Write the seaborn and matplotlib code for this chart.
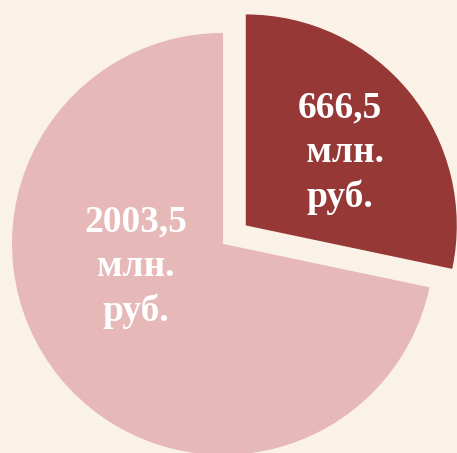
import seaborn as sns
import matplotlib
matplotlib.use("Agg")
import matplotlib.pyplot as plt

# wedge shares (dark wedge spans ~102 deg)
shares = [28.3, 71.7]
labels = ["666,5\n млн.\nруб.", "2003,5\nмлн.\nруб."]
colors = ["#963835", "#E6B8B8"]
explode = [0.139, 0.0]

sns.set_style("white")
plt.rcParams["font.family"] = ["Liberation Serif", "DejaVu Serif"]

bg = "#FAF1E7"
fig = plt.figure(figsize=(4.57, 4.53), dpi=100, facecolor=bg)
ax = fig.add_axes([0, 0, 1, 1])
ax.set_facecolor(bg)

palette = sns.color_palette(colors)
ax.pie(shares, colors=palette, explode=explode, startangle=90,
       counterclock=False, radius=1.0,
       wedgeprops=dict(linewidth=0))

text_pos = [(0.555, 0.43), (-0.412, -0.11)]
for (x, y), lab in zip(text_pos, labels):
    ax.text(x, y, lab, color="white", fontsize=27, fontweight="bold",
            ha="center", va="center", multialignment="center",
            linespacing=1.35)

ax.set_xlim(-1.057, 1.109)
ax.set_ylim(-0.991, 1.156)
ax.set_aspect("auto")
ax.axis("off")

plt.savefig("out.png", dpi=100, facecolor=bg)
plt.close()
